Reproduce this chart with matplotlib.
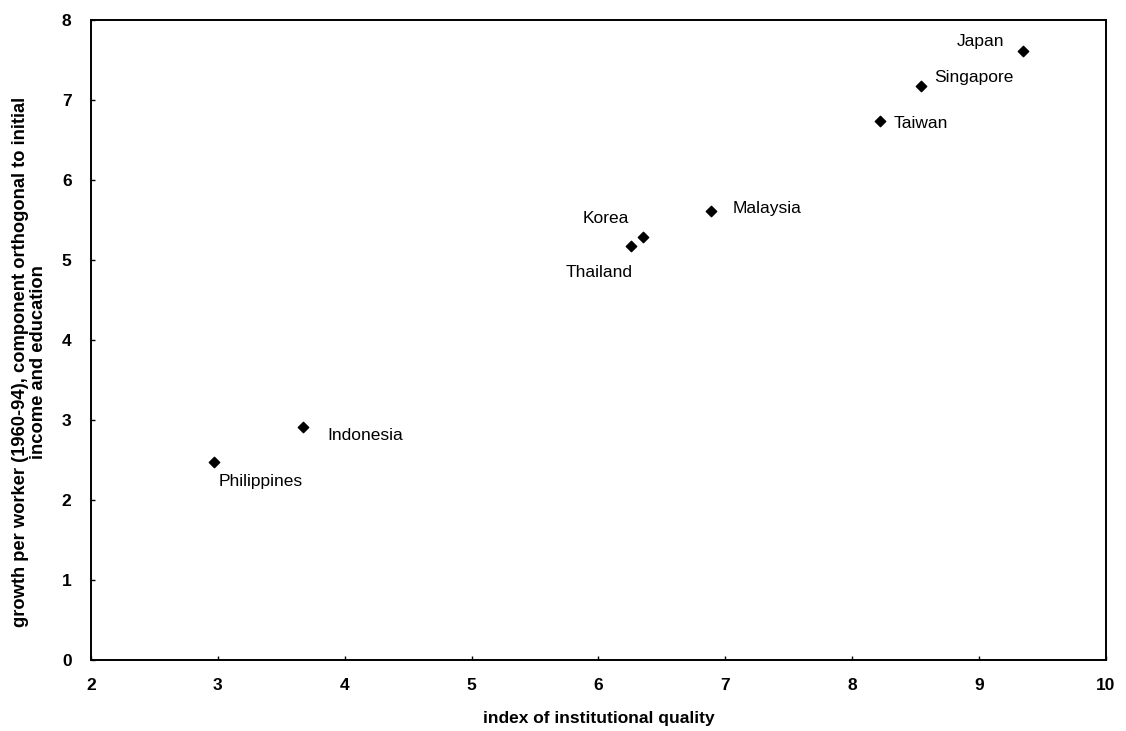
"""Institutional quality vs. orthogonalised growth per worker, East Asia."""

import matplotlib
matplotlib.use("Agg")
import matplotlib.pyplot as plt

# Data.
countries = ["Philippines", "Indonesia", "Thailand", "Korea", "Malaysia",
             "Taiwan", "Singapore", "Japan"]
inst_quality = [2.97, 3.67, 6.26, 6.35, 6.89, 8.22, 8.54, 9.35]
growth = [2.48, 2.91, 5.18, 5.29, 5.61, 6.74, 7.18, 7.61]

# Label offsets in points relative to each marker (dx, dy, ha).
LABEL_OFFSETS = {
    "Philippines": (3, -14, "left"),
    "Indonesia": (18, -6, "left"),
    "Thailand": (1, -19, "right"),
    "Korea": (-10, 13, "right"),
    "Malaysia": (15, 2, "left"),
    "Taiwan": (10, -2, "left"),
    "Singapore": (10, 6, "left"),
    "Japan": (-14, 7, "right"),
}

FS = 12.5

plt.rcParams["font.family"] = ["Liberation Sans", "DejaVu Sans"]

fig = plt.figure(figsize=(11.26, 7.31), dpi=100)
ax = fig.add_axes([0.0808, 0.0971, 0.9014, 0.8755])

ax.scatter(inst_quality, growth, marker="D", s=28, color="black", zorder=3)

for name, x, y in zip(countries, inst_quality, growth):
    dx, dy, ha = LABEL_OFFSETS[name]
    ax.annotate(name, (x, y), xytext=(dx, dy), textcoords="offset points",
                ha=ha, va="center", fontsize=FS)

ax.set_xlim(2, 10)
ax.set_ylim(0, 8)
ax.set_xticks(range(2, 11))
ax.set_yticks(range(0, 9))

for spine in ax.spines.values():
    spine.set_linewidth(1.4)
    spine.set_color("black")

ax.tick_params(direction="in", length=3, width=1, labelsize=FS)
ax.tick_params(axis="x", pad=13)
ax.tick_params(axis="y", pad=14)
for lbl in ax.get_xticklabels() + ax.get_yticklabels():
    lbl.set_fontweight("bold")

ax.set_xlabel("index of institutional quality", fontsize=FS,
              fontweight="bold", labelpad=13)
ax.set_ylabel("growth per worker (1960-94), component orthogonal to initial\n"
              "income and education", fontsize=13.2, fontweight="bold",
              linespacing=1.1)
# the label sits a little below the axes centre in the original
ax.yaxis.set_label_coords(-0.043, 0.465)

fig.savefig("out.png", dpi=100)
